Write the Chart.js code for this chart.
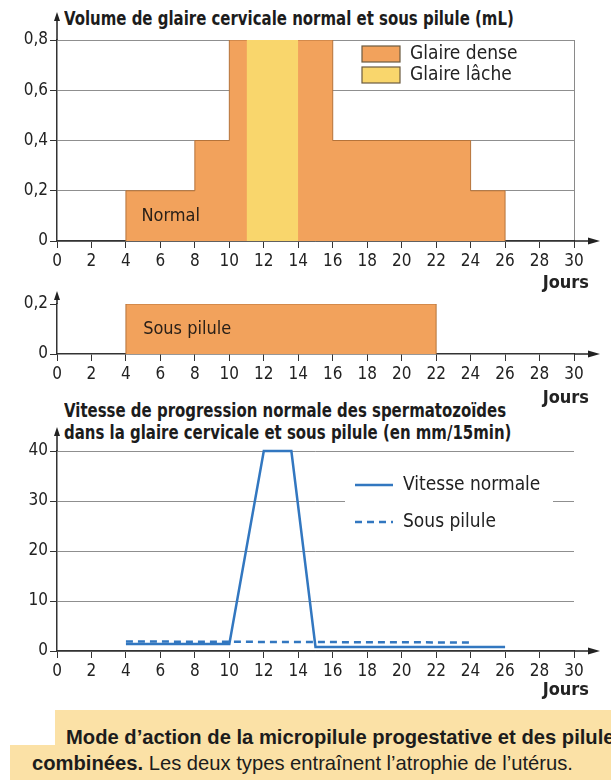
<!DOCTYPE html>
<html>
<head>
<meta charset="utf-8">
<script src="https://cdn.jsdelivr.net/npm/chart.js@4.4.0/dist/chart.umd.min.js"></script>
<style>
  body { margin: 0; width: 611px; height: 780px; background: #fff; position: relative; overflow: hidden;
         font-family: "DejaVu Sans Condensed", "DejaVu Sans", sans-serif; color: #1c1c1c; }
  canvas { position: absolute; left: 0; }
  .title { position: absolute; left: 64px; font-weight: bold; font-size: 19px; line-height: 22px; white-space: nowrap;
           transform: scaleX(0.875); transform-origin: 0 0; }
  .band { position: absolute; background: #fbe1a6; }
  .cap { position: absolute; font-family: "Liberation Sans", sans-serif; font-size: 20.2px; line-height: 24px; white-space: nowrap; }
</style>
</head>
<body>
<div class="title" style="top:7px">Volume de glaire cervicale normal et sous pilule (mL)</div>
<div class="title" style="top:399px">Vitesse de progression normale des spermatozoïdes<br>dans la glaire cervicale et sous pilule (en mm/15min)</div>

<div class="band" style="left:55px; top:710px; width:556px; height:36px"></div>
<div class="band" style="left:10px; top:745px; width:601px; height:35px"></div>
<div class="cap" style="left:66px; top:725px"><b>Mode d’action de la micropilule progestative et des pilules</b></div>
<div class="cap" style="left:32px; top:751px"><b>combinées.</b> Les deux types entraînent l’atrophie de l’utérus.</div>

<canvas id="volumeChart" width="611" height="300" style="top:0"></canvas>
<canvas id="piluleChart" width="611" height="130" style="top:280px"></canvas>
<canvas id="speedChart" width="611" height="290" style="top:420px"></canvas>

<script>
// volume profiles (day, mL) - step outlines
const normalDays = [4, 4, 8, 10, 16, 24, 26];
const normalDense = [0, 0.2, 0.4, 0.8, 0.4, 0.2, 0];
const laxDays = [11, 11, 14];
const laxVolume = [0, 0.8, 0];
const piluleDays = [4, 4, 22];
const piluleVolume = [0, 0.2, 0];

// sperm speed (mm/15min)
const speedDays = [4, 10, 12, 13.6, 15, 26];
const speedNormal = [1.4, 1.4, 40, 40, 0.8, 0.8];
const speedPiluleDays = [4, 24];
const speedPilule = [1.9, 1.7];

const volumeTicks = ['0', '0,2', '0,4', '0,6', '0,8'];
const piluleTicks = ['0', '0,2'];
const speedTicks = ['0', '10', '20', '30', '40'];

const DENSE = '#f2a25c';
const LAX = '#f9d66c';
const BLUE = '#3277c0';
const FONT = "'DejaVu Sans Condensed', 'DejaVu Sans', sans-serif";

Chart.defaults.font.family = FONT;
Chart.defaults.font.size = 17;
Chart.defaults.color = '#222';

function points(xs, ys) {
    return xs.map((x, i) => ({ x: x, y: ys[i] }));
}

// arrows, "Jours", notes and legend boxes
const decor = {
    id: 'decor',
    afterDraw(chart, args, opts) {
        const ctx = chart.ctx;
        const a = chart.chartArea;
        const x = chart.scales.x, y = chart.scales.y;
        ctx.save();
        ctx.strokeStyle = '#222';
        ctx.fillStyle = '#222';
        ctx.lineWidth = 1.5;
        // x axis arrow
        ctx.beginPath();
        ctx.moveTo(a.right, a.bottom);
        ctx.lineTo(a.right + 16, a.bottom);
        ctx.stroke();
        ctx.beginPath();
        ctx.moveTo(a.right + 26, a.bottom);
        ctx.lineTo(a.right + 14, a.bottom - 3.5);
        ctx.lineTo(a.right + 14, a.bottom + 3.5);
        ctx.closePath();
        ctx.fill();
        // y axis arrow
        const tip = a.top - opts.arrowTop;
        ctx.beginPath();
        ctx.moveTo(a.left, a.top);
        ctx.lineTo(a.left, tip + 6);
        ctx.stroke();
        ctx.beginPath();
        ctx.moveTo(a.left, tip);
        ctx.lineTo(a.left - 3, tip + 9);
        ctx.lineTo(a.left + 3, tip + 9);
        ctx.closePath();
        ctx.fill();

        ctx.textBaseline = 'middle';
        ctx.textAlign = 'right';
        ctx.font = 'bold 18px ' + FONT;
        ctx.fillText('Jours', a.right + 15, a.bottom + opts.joursOffset);

        ctx.textAlign = 'left';
        ctx.font = '18px ' + FONT;
        ctx.fillStyle = '#2a2018';
        (opts.notes || []).forEach(n => {
            ctx.fillText(n.text, x.getPixelForValue(n.x), y.getPixelForValue(n.y));
        });

        const lg = opts.legend;
        if (lg) {
            const lx = a.right - lg.right, ly = a.top + lg.top;
            if (lg.bg) {
                ctx.fillStyle = '#fff';
                ctx.fillRect(lx - 10, ly - 18, 208, 74);
            }
            chart.data.datasets.forEach((ds, i) => {
                const cy = ly + i * lg.gap;
                if (lg.kind === 'box') {
                    ctx.fillStyle = ds.backgroundColor;
                    ctx.fillRect(lx, cy - 8, 38, 16);
                    ctx.strokeStyle = '#6b5a40';
                    ctx.lineWidth = 1.2;
                    ctx.strokeRect(lx, cy - 8, 38, 16);
                } else {
                    ctx.strokeStyle = ds.borderColor;
                    ctx.lineWidth = ds.borderWidth;
                    ctx.setLineDash(ds.borderDash || []);
                    ctx.beginPath();
                    ctx.moveTo(lx, cy);
                    ctx.lineTo(lx + 38, cy);
                    ctx.stroke();
                    ctx.setLineDash([]);
                }
                ctx.fillStyle = '#222';
                ctx.font = '19px ' + FONT;
                ctx.fillText(ds.label, lx + 48, cy);
            });
        }
        ctx.restore();
    }
};

function axes(yMax, yStep, yLabels, gridOn, rightBorder, xHeight) {
    return {
        x: {
            type: 'linear', min: 0, max: 30,
            ticks: { stepSize: 2, padding: 3, maxRotation: 0 },
            grid: {
                drawOnChartArea: rightBorder,
                color: c => (c.tick && c.tick.value === 30) ? '#8a8a8a' : 'rgba(0,0,0,0)',
                tickColor: '#333', tickLength: 7, lineWidth: 1
            },
            border: { color: '#333', width: 1.5 },
            afterFit: s => { s.height = xHeight; }
        },
        y: {
            min: 0, max: yMax,
            ticks: { stepSize: yStep, padding: 2, callback: (v, i) => yLabels[i] },
            grid: { drawOnChartArea: gridOn, color: '#8f8f8f', tickColor: '#333', tickLength: 7, lineWidth: 1 },
            border: { color: '#333', width: 1.5 },
            afterFit: s => { s.width = 57; }
        }
    };
}

new Chart(document.getElementById('volumeChart'), {
    type: 'line',
    data: {
        datasets: [{
            label: 'Glaire dense',
            data: points(normalDays, normalDense),
            stepped: 'before',
            fill: 'origin',
            backgroundColor: DENSE,
            borderColor: '#b5733a',
            borderWidth: 1,
            pointRadius: 0,
            order: 2
        }, {
            label: 'Glaire lâche',
            data: points(laxDays, laxVolume),
            stepped: 'before',
            fill: 'origin',
            backgroundColor: LAX,
            borderWidth: 0,
            pointRadius: 0,
            order: 1
        }]
    },
    options: {
        responsive: false,
        animation: false,
        layout: { padding: { left: 0, right: 37, top: 40, bottom: 0 } },
        scales: axes(0.8, 0.2, volumeTicks, true, true, 59),
        plugins: {
            legend: { display: false },
            tooltip: { enabled: false },
            decor: {
                arrowTop: 28, joursOffset: 42,
                notes: [{ text: 'Normal', x: 4.9, y: 0.1 }],
                legend: { kind: 'box', right: 212, top: 14, gap: 21 }
            }
        }
    },
    plugins: [decor]
});

new Chart(document.getElementById('piluleChart'), {
    type: 'line',
    data: {
        datasets: [{
            label: 'Sous pilule',
            data: points(piluleDays, piluleVolume),
            stepped: 'before',
            fill: 'origin',
            backgroundColor: DENSE,
            borderColor: '#b5733a',
            borderWidth: 1,
            pointRadius: 0
        }]
    },
    options: {
        responsive: false,
        animation: false,
        layout: { padding: { left: 0, right: 37, top: 24, bottom: 0 } },
        scales: axes(0.2, 0.2, piluleTicks, false, false, 56),
        plugins: {
            legend: { display: false },
            tooltip: { enabled: false },
            decor: {
                arrowTop: 13, joursOffset: 44,
                notes: [{ text: 'Sous pilule', x: 5, y: 0.1 }]
            }
        }
    },
    plugins: [decor]
});

new Chart(document.getElementById('speedChart'), {
    type: 'line',
    data: {
        datasets: [{
            label: 'Vitesse normale',
            data: points(speedDays, speedNormal),
            borderColor: BLUE,
            borderWidth: 2.5,
            pointRadius: 0,
            tension: 0,
            clip: false
        }, {
            label: 'Sous pilule',
            data: points(speedPiluleDays, speedPilule),
            borderColor: BLUE,
            borderWidth: 2.5,
            borderDash: [7, 5],
            pointRadius: 0,
            tension: 0,
            clip: false
        }]
    },
    options: {
        responsive: false,
        animation: false,
        layout: { padding: { left: 0, right: 37, top: 31, bottom: 0 } },
        scales: axes(40, 10, speedTicks, true, false, 59),
        plugins: {
            legend: { display: false },
            tooltip: { enabled: false },
            decor: {
                arrowTop: 24, joursOffset: 39,
                legend: { kind: 'line', right: 219, top: 34, gap: 37, bg: true }
            }
        }
    },
    plugins: [decor]
});
</script>
</body>
</html>
